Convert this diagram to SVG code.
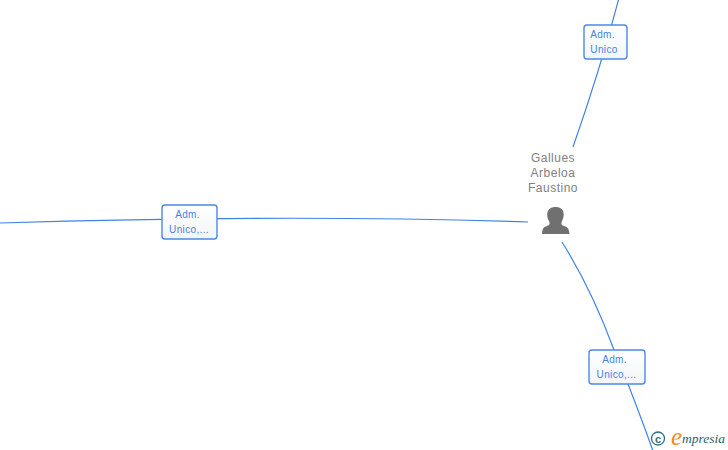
<svg xmlns="http://www.w3.org/2000/svg" width="728" height="450" viewBox="0 0 728 450">
<defs>
<linearGradient id="boxfill" x1="0" y1="0" x2="0" y2="1"><stop offset="0" stop-color="#ffffff"/><stop offset="1" stop-color="#f3f5f8"/></linearGradient>
</defs>
<style>
.c{fill:none;stroke:#3f84e5;stroke-width:1.2}
.b{fill:url(#boxfill);stroke:#4a8ae6;stroke-width:1.4}
.t{font-family:"Liberation Sans",Arial,sans-serif;font-size:10px;letter-spacing:.35px;fill:#3f84e5;text-anchor:middle}
.n{font-family:"Liberation Sans",Arial,sans-serif;font-size:12px;letter-spacing:.5px;fill:#808080;text-anchor:middle}
</style>
<rect width="728" height="450" fill="#ffffff"/>
<g id="connectors">
<path class="c" d="M619 -2 Q600 70 573 147"/>
<path class="c" d="M0 223 Q290 214 528 222"/>
<path class="c" d="M562 242 Q592 290 614 350 L628 384 Q642 420 653 451"/>
</g>
<g id="edge-top">
<rect class="b" x="584" y="25" width="43" height="34" rx="3"/>
<text class="t" x="602.500" y="38">Adm.</text>
<text class="t" x="604" y="53">Unico</text>
</g>
<g id="edge-left">
<rect class="b" x="162" y="205" width="55" height="34" rx="3"/>
<text class="t" x="187.500" y="218">Adm.</text>
<text class="t" x="189" y="233">Unico,...</text>
</g>
<g id="edge-bottom">
<rect class="b" x="589" y="350" width="56" height="34" rx="3"/>
<text class="t" x="614.500" y="363">Adm.</text>
<text class="t" x="616.500" y="378">Unico,...</text>
</g>
<g id="person">
<text class="n" x="553" y="162">Gallues</text>
<text class="n" x="553" y="177">Arbeloa</text>
<text class="n" x="553" y="192">Faustino</text>
<path fill="#707070" d="M549 221 C546 216 546 207 555.500 207 C565 207 565 216 562 221 C561 224 561 225 564 226 C568 227 569 229 569.500 234 L542 234 C542.500 229 543 227 547 226 C550 225 550 224 549 221Z"/>
</g>
<g id="logo">
<circle cx="658" cy="438.500" r="6.500" fill="none" stroke="#2f6f80" stroke-width="1.3"/>
<text x="658" y="442.500" font-family="Liberation Sans,sans-serif" font-size="11" font-weight="bold" fill="#2f6f80" text-anchor="middle">c</text>
<text x="671" y="445" font-family="Liberation Serif,serif" font-style="italic" font-size="25" fill="#ef8a1d">e</text>
<text x="682" y="443" font-family="Liberation Serif,serif" font-style="italic" font-size="13.500" fill="#1f6272">mpresia</text>
</g>
</svg>
